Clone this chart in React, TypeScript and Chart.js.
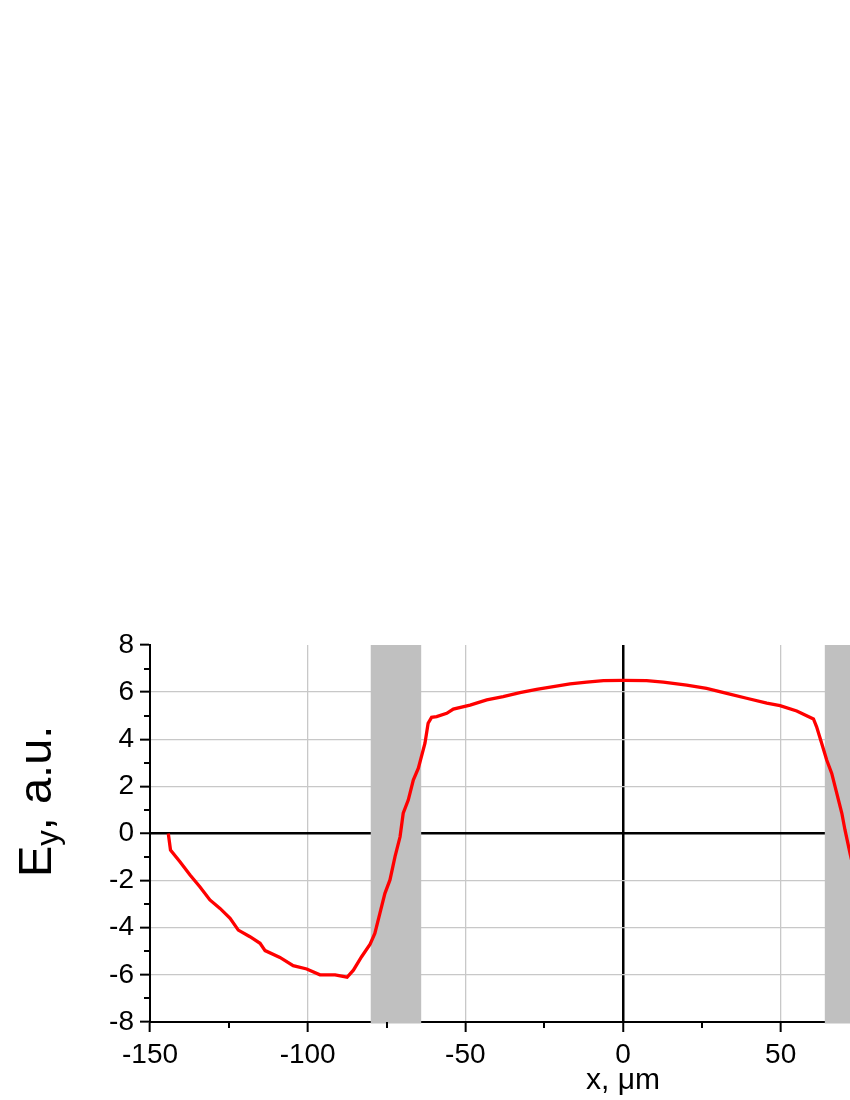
import React, { useEffect, useRef } from 'react';
import { Chart, registerables } from 'chart.js';

Chart.register(...registerables);

// Position along the structure, µm
const xValues = [
  -144.2, -143.5, -140.5, -137.3, -134.2, -131.0, -127.8, -124.6, -122.0, -118.3,
  -115.1, -113.5, -108.8, -104.6, -100.3, -96.1, -91.3, -87.5, -85.5, -82.9,
  -80.2, -78.7, -77.1, -75.5, -73.9, -72.3, -70.7, -69.7, -68.1, -66.5,
  -64.9, -62.8, -61.8, -60.7, -59.1, -55.9, -53.8, -48.5, -43.2, -38.0,
  -32.7, -27.4, -22.1, -16.8, -11.5, -6.2, 0.0, 7.5, 12.8, 20.2,
  26.5, 32.9, 39.2, 45.6, 49.8, 55.1, 60.4, 61.4, 63.0, 64.6,
  66.2, 67.8, 69.4, 70.4, 72.0, 73.5,
];

// Field amplitude E_y, a.u.
const eyValues = [
  0.0, -0.7, -1.2, -1.76, -2.26, -2.82, -3.18, -3.6, -4.1, -4.38,
  -4.66, -4.97, -5.26, -5.61, -5.75, -6.0, -6.0, -6.1, -5.8, -5.23,
  -4.7, -4.24, -3.39, -2.54, -1.97, -0.98, -0.14, 0.86, 1.42, 2.27,
  2.77, 3.83, 4.68, 4.93, 4.96, 5.1, 5.28, 5.45, 5.67, 5.81,
  5.98, 6.12, 6.23, 6.35, 6.42, 6.49, 6.5, 6.49, 6.42, 6.3,
  6.16, 5.95, 5.74, 5.53, 5.43, 5.2, 4.86, 4.53, 3.83, 3.12,
  2.55, 1.7, 0.86, 0.15, -0.84, -1.7,
];

// Shaded regions [start, end], µm
const regionStarts = [-80, 64];
const regionEnds = [-64, 80];

// Axis ticks
const xMajorTicks = [-150, -100, -50, 0, 50, 100, 150];
const xMinorTicks = [-125, -75, -25, 25, 75, 125];
const yMajorTicks = [-8, -6, -4, -2, 0, 2, 4, 6, 8];
const yMinorTicks = [-7, -5, -3, -1, 1, 3, 5, 7];

const FONT = '"Liberation Sans", Arial, sans-serif';

const regionsPlugin = {
  id: 'regions',
  beforeDatasetsDraw(chart: any) {
    const { ctx, chartArea, scales } = chart;
    ctx.save();
    ctx.fillStyle = '#c0c0c0';
    regionStarts.forEach((s, i) => {
      const x1 = scales.x.getPixelForValue(s);
      const x2 = scales.x.getPixelForValue(regionEnds[i]);
      ctx.fillRect(x1, chartArea.top, x2 - x1, chartArea.bottom - chartArea.top + 1.5);
    });
    ctx.restore();
  },
};

const minorTicksPlugin = {
  id: 'minorTicks',
  afterDraw(chart: any) {
    const { ctx, chartArea, scales } = chart;
    ctx.save();
    ctx.strokeStyle = '#000';
    ctx.lineWidth = 2;
    ctx.beginPath();
    xMinorTicks.forEach((v) => {
      const px = Math.round(scales.x.getPixelForValue(v));
      ctx.moveTo(px, chartArea.bottom);
      ctx.lineTo(px, chartArea.bottom + 6);
    });
    yMinorTicks.forEach((v) => {
      const py = Math.round(scales.y.getPixelForValue(v));
      ctx.moveTo(chartArea.left - 6, py);
      ctx.lineTo(chartArea.left, py);
    });
    ctx.stroke();
    ctx.restore();
  },
};

const yTitlePlugin = {
  id: 'yTitle',
  afterDraw(chart: any) {
    const { ctx, chartArea } = chart;
    ctx.save();
    ctx.translate(chartArea.left - 99, chartArea.bottom - 145);
    ctx.rotate(-Math.PI / 2);
    ctx.fillStyle = '#000';
    ctx.textAlign = 'left';
    ctx.textBaseline = 'alphabetic';
    let x = 0;
    ctx.font = `47px ${FONT}`;
    ctx.fillText('E', x, 0);
    x += ctx.measureText('E').width;
    ctx.font = `31px ${FONT}`;
    ctx.fillText('y', x, 7);
    x += ctx.measureText('y').width;
    ctx.font = `47px ${FONT}`;
    ctx.fillText(', a.u.', x, 0);
    ctx.restore();
  },
};

export default function App() {
  const canvasRef = useRef<HTMLCanvasElement | null>(null);

  useEffect(() => {
    const canvas = canvasRef.current;
    if (!canvas) return;
    const chart = new Chart(canvas, {
      type: 'line',
      data: {
        datasets: [
          {
            data: xValues.map((x, i) => ({ x, y: eyValues[i] })),
            borderColor: '#ff0000',
            borderWidth: 3.3,
            pointRadius: 0,
            tension: 0,
            fill: false,
          },
        ],
      },
      options: {
        responsive: false,
        animation: false,
        events: [],
        layout: { padding: { left: 0, top: 645, right: 34, bottom: 0 } },
        plugins: { legend: { display: false }, tooltip: { enabled: false } },
        scales: {
          x: {
            type: 'linear',
            min: -150,
            max: 150,
            afterBuildTicks: (s: any) => {
              s.ticks = xMajorTicks.map((v) => ({ value: v }));
            },
            afterFit: (s: any) => {
              s.height = 78;
            },
            grid: {
              color: (c: any) =>
                c.tick && c.tick.value === 0
                  ? '#000'
                  : c.tick && c.tick.value === -150
                  ? 'rgba(0,0,0,0)'
                  : '#c8c8c8',
              lineWidth: (c: any) => (c.tick && c.tick.value === 0 ? 2.5 : 1.3),
              tickColor: '#000',
              tickWidth: 2,
              tickLength: 10,
              drawTicks: true,
            },
            border: { display: true, color: '#000', width: 2 },
            ticks: {
              font: { family: FONT, size: 28 },
              color: '#000',
              padding: 6,
              maxRotation: 0,
              autoSkip: false,
            },
            title: {
              display: true,
              text: 'x, μm',
              font: { family: FONT, size: 30 },
              color: '#000',
              padding: { top: 0, bottom: 1 },
            },
          },
          y: {
            type: 'linear',
            min: -8,
            max: 8,
            afterBuildTicks: (s: any) => {
              s.ticks = yMajorTicks.map((v) => ({ value: v }));
            },
            afterFit: (s: any) => {
              s.width = 150;
            },
            grid: {
              color: (c: any) =>
                c.tick && c.tick.value === 0
                  ? '#000'
                  : c.tick && (c.tick.value === 8 || c.tick.value === -8)
                  ? 'rgba(0,0,0,0)'
                  : '#c8c8c8',
              lineWidth: (c: any) => (c.tick && c.tick.value === 0 ? 2.5 : 1.3),
              tickColor: '#000',
              tickWidth: 2,
              tickLength: 10,
              drawTicks: true,
            },
            border: { display: true, color: '#000', width: 2 },
            ticks: {
              font: { family: FONT, size: 28 },
              color: '#000',
              padding: 6,
              autoSkip: false,
            },
          },
        },
      },
      plugins: [regionsPlugin, minorTicksPlugin, yTitlePlugin],
    } as any);
    return () => chart.destroy();
  }, []);

  return (
    <div
      style={{
        position: 'absolute',
        left: 0,
        top: 0,
        width: 850,
        height: 1100,
        overflow: 'hidden',
        background: '#fff',
      }}
    >
      <canvas ref={canvasRef} width={1130} height={1100} style={{ display: 'block' }} />
    </div>
  );
}
